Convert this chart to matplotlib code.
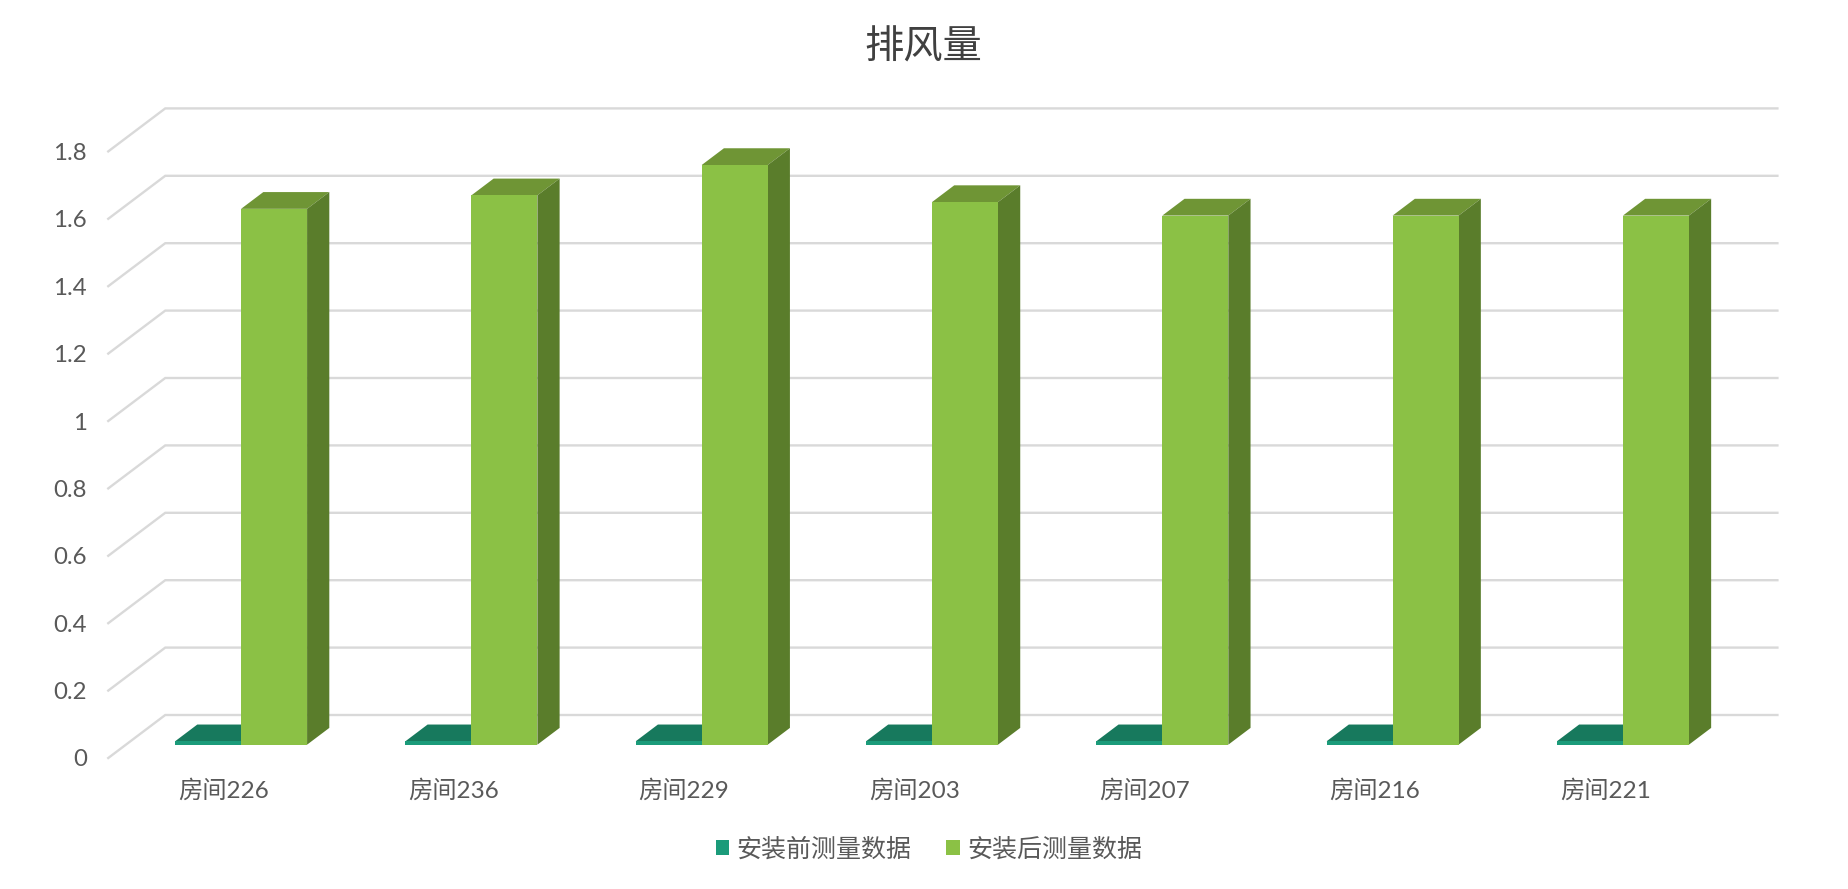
import matplotlib
matplotlib.use("Agg")
import matplotlib.pyplot as plt
from matplotlib.patches import Polygon, Patch

plt.rcParams['font.family'] = ['Lato', 'Noto Sans CJK SC', 'DejaVu Sans']

title = '排风量'
rooms = ['房间226', '房间236', '房间229', '房间203', '房间207', '房间216', '房间221']
before = [0.01, 0.01, 0.01, 0.01, 0.01, 0.01, 0.01]
after = [1.59, 1.63, 1.72, 1.61, 1.57, 1.57, 1.57]
series_names = ['安装前测量数据', '安装后测量数据']
yticks = [0, 0.2, 0.4, 0.6, 0.8, 1, 1.2, 1.4, 1.6, 1.8]
yticklabels = ['0', '0.2', '0.4', '0.6', '0.8', '1', '1.2', '1.4', '1.6', '1.8']

W, H = 1848, 889
fig = plt.figure(figsize=(W / 100, H / 100), dpi=100, facecolor='white')
left, right, bottom, top = 108.25, 1720.4, 758.0, 151.4
ax = fig.add_axes([left / W, 1 - bottom / H, (right - left) / W, (bottom - top) / H])
ax.set_xlim(-0.5, 6.5)
ax.set_ylim(0, 1.8)
for s in ax.spines.values():
    s.set_visible(False)

# oblique depth of the chart box, in data units
DX = 57 / ((right - left) / 7)
DY = 43 / ((bottom - top) / 1.8)
BAR_W = 0.2866
D0, D1 = 0.31, 0.70


def proj(x, y, d):
    return x + d * DX, y + d * DY


GRID = '#d9d9d9'
for v in yticks:
    x0, y0 = proj(-0.5, v, 0)
    x1, y1 = proj(-0.5, v, 1)
    x2, y2 = proj(6.5, v, 1)
    ax.plot([x0, x1, x2], [y0, y1, y2], color=GRID, lw=1.7, clip_on=False,
            solid_joinstyle='miter', zorder=1)


def bar3d(x, v, front, tops, side, z):
    xa, ya = proj(x, 0, D0)
    a = proj(x, v, D0)
    b = proj(x + BAR_W, v, D0)
    c = proj(x + BAR_W, v, D1)
    d = proj(x, v, D1)
    e = proj(x + BAR_W, 0, D1)
    f = proj(x + BAR_W, 0, D0)
    ax.add_patch(Polygon([a, b, c, d], closed=True, fc=tops, ec='none', zorder=z, clip_on=False))
    ax.add_patch(Polygon([b, c, e, f], closed=True, fc=side, ec='none', zorder=z, clip_on=False))
    ax.bar(xa, v, BAR_W, bottom=ya, align='edge', color=front, lw=0, zorder=z + 0.001, clip_on=False)


for i in range(len(rooms)):
    bar3d(i - BAR_W, before[i], '#1b9b7a', '#17795d', '#17795d', 2 + i * 0.01)
    bar3d(i, after[i], '#8bc145', '#6f9535', '#5a7d2b', 3 + i * 0.01)

TXT = '#595959'
ax.set_yticks(yticks, yticklabels)
ax.set_xticks(range(len(rooms)), rooms)
ax.tick_params(axis='y', length=0, pad=15.5, labelsize=17.3, labelcolor=TXT)
ax.tick_params(axis='x', length=0, pad=15, labelsize=17.5, labelcolor=TXT)

fig.text(923 / W, 1 - 47 / H, title, ha='center', va='center', fontsize=28.3, color='#404040')

handles = [Patch(fc='#1b9b7a', ec='none'), Patch(fc='#8bc145', ec='none')]
fig.legend(handles, series_names, loc='center', bbox_to_anchor=(929 / W, 1 - 849 / H), ncol=2,
           frameon=False, fontsize=18, labelcolor=TXT, handlelength=0.53, handleheight=0.53,
           handletextpad=0.3, columnspacing=1.4, borderpad=0, borderaxespad=0)

fig.savefig('out.png', dpi=100)
